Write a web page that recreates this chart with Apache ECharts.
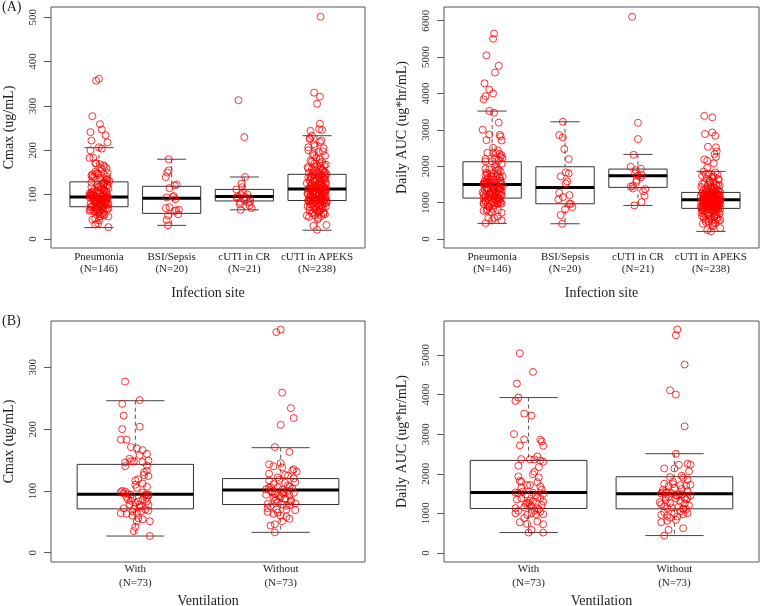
<!DOCTYPE html>
<html><head><meta charset="utf-8">
<script src="https://cdn.jsdelivr.net/npm/echarts@6/dist/echarts.min.js"></script>
<style>html,body{margin:0;padding:0;background:#fff}#c{width:760px;height:606px}</style>
</head><body><div id="c"></div>
<script>
// ---------- categories ----------
var siteNames = ['Pneumonia', 'BSI/Sepsis', 'cUTI in CR', 'cUTI in APEKS'];
var siteN = [146, 20, 21, 238];
var ventNames = ['With', 'Without'];
var ventN = [73, 73];

// ---------- box statistics [lower whisker, Q1, median, Q3, upper whisker] ----------
var cmaxSiteBox = [[26, 73, 95, 129, 206], [31, 58, 92, 119, 180], [66, 86, 96, 112, 140], [20, 87, 113, 146, 233]];
var aucSiteBox = [[431, 1126, 1502, 2124, 3516], [421, 970, 1420, 1986, 3222], [925, 1420, 1740, 1923, 2326], [211, 843, 1080, 1282, 1860]];
var cmaxVentBox = [[27, 71, 94.5, 143, 246], [33, 78, 101.5, 120, 170]];
var aucVentBox = [[514, 1122, 1527, 2337, 3925], [438, 1114, 1494, 1924, 2507]];

// ---------- individual values (jitter offsets in hundredths of a category unit) ----------
var withCmax = [277, 241, 247, 222, 204, 200, 183, 183, 171, 169, 166, 160, 158, 149, 148, 146, 148, 147, 140, 141, 133, 126, 124, 117, 112, 110, 105, 98, 96, 94, 97, 94, 94, 88, 86, 83, 86, 83, 78, 78, 77, 72, 71, 67, 67, 64, 68, 64, 63, 56, 54, 51, 51, 42, 35, 27,
  95, 92, 89, 81, 84, 75, 70, 100, 130, 152, 119, 107, 90, 74, 60, 93, 99];
var withCmaxJit = [-7, -9, 3, -8, 3, -9, -10, -6, -3, 1, 5, 8, 3, 9, -3, -7, -1, 5, -7, 8, 8, 6, 9, 0, 5, 0, 1, -10, -8, -3, 5, 7, 9, -2, -5, 2, 5, 8, -4, 3, 9, -8, -1, -2, 4, 1, 9, -10, -6, 2, 5, 1, 10, 0, -1, 10,
  -5, 6, 8, 0, -3, 4, 7, -9, 6, -4, 2, 8, -6, 3, -2, 9, -7];
var withoutCmax = [357, 361, 259, 234, 218, 207, 171, 163, 143, 140, 145, 138, 135, 131, 125, 122, 117, 114, 113, 111, 106, 106, 107, 102, 100, 98, 97, 94, 92, 87, 84, 83, 79, 78, 75, 70, 70, 69, 66, 63, 60, 51, 55, 44, 46, 33,
  103, 95, 88, 85, 99, 104, 120, 128, 90, 82, 76, 72, 109, 96, 101, 93, 86, 80, 118, 126, 133, 89, 97, 105, 77, 65, 58];
var withoutCmaxJit = [-3, 0, 1, 7, 9, 0, -4, 6, -8, -5, 0, 1, 9, 11, 5, -2, -8, 10, 3, -5, -7, -2, 6, 1, 5, -6, 9, -10, -1, 3, -4, 7, -9, 1, -7, -3, 4, 10, -9, -5, 0, 1, 6, -7, -4, -4,
  -10, -4, 3, 7, -6, 8, 9, -8, 0, -2, 4, -9, 5, 2, -7, 6, -3, 10, -1, 3, 8, -5, 1, -8, 6, -2, 4];
var withAuc = [5046, 4573, 4279, 3925, 3839, 3519, 3469, 3003, 2869, 2861, 2818, 2717, 2709, 2438, 2370, 2362, 2337, 2362, 2304, 2203, 2167, 1990, 1932, 1907, 1798, 1788, 1712, 1712, 1679, 1527, 1509, 1476, 1494, 1383, 1383, 1299, 1299, 1256, 1231, 1205, 1155, 1129, 1079, 1003, 1063, 1003, 977, 977, 962, 793, 775, 734, 724, 582, 514, 514,
  1550, 1450, 1350, 1180, 1100, 1240, 1600, 1820, 2050, 1270, 1130, 1400, 1520, 880, 1040, 1650, 1320];
var withAucJit = [-6, 3, -8, -7, -9, -3, 2, -10, -3, 8, 9, -6, 10, 6, -5, 1, 8, 4, 10, -7, 7, 3, -7, 7, -5, 6, -1, 1, 8, -9, -7, -2, 10, 8, -5, 3, 10, -1, 1, 9, -3, 6, 4, -9, -7, 2, 10, 5, -1, 6, -6, -1, 10, 2, 0, 10,
  -4, 5, -8, 2, 7, -2, 9, -6, 4, 0, -9, 6, 3, -3, 8, -5, 1];
var withoutAuc = [5646, 5502, 4760, 4109, 4001, 3198, 2507, 2228, 2253, 2228, 2134, 2134, 2066, 1914, 1899, 1848, 1747, 1737, 1722, 1686, 1712, 1700, 1534, 1509, 1484, 1451, 1400, 1375, 1383, 1231, 1256, 1172, 1129, 1114, 1028, 1003, 1003, 962, 937, 919, 1114, 775, 810, 835, 623, 582, 438,
  1480, 1560, 1520, 1460, 1300, 1620, 1280, 1350, 1420, 1590, 1200, 1150, 1050, 1250, 1800, 1950, 1500, 1440, 1330, 1100, 1640, 980, 890, 1180, 1380, 1540];
var withoutAucJit = [2, 1, 7, -3, 1, 7, 1, 3, 9, 11, -7, 0, 10, -3, 6, 9, -7, -1, 11, -4, 4, 8, -8, -2, 5, 11, -6, 1, 7, -9, -3, 3, -5, 6, -7, 0, 9, -9, -5, 2, 6, -9, -5, 1, 6, -4, -7,
  3, 9, -6, 1, 4, 5, -10, 8, -4, -8, 10, -2, 4, 7, -1, 5, -9, 2, -6, 8, 0, 6, -3, -7, 9, -5];

var bsiCmax = [180, 155, 150, 140, 121, 115, 97, 94, 70, 72, 65, 56, 53, 43, 31, 95, 63, 123, 90, 66];
var bsiCmaxJit = [-4, -4, -6, -8, 4, -3, 3, -7, -8, -3, 6, 9, -5, -7, -5, 2, 4, 7, 5, 10];
var bsiAuc = [3223, 2857, 2793, 2472, 2198, 1805, 1722, 1585, 1530, 1272, 1209, 1154, 970, 879, 816, 659, 420, 966, 1090, 1833];
var bsiAucJit = [-3, -8, -3, -1, 5, 5, -6, 3, 1, -8, 6, -3, 6, 10, 0, -6, -4, 8, -9, 1];
var crCmax = [313, 230, 140, 125, 117, 112, 106, 101, 99, 95, 95, 94, 92, 88, 84, 84, 82, 78, 76, 70, 66];
var crCmaxJit = [-8, 0, 1, -4, -3, -11, -2, 4, -4, -9, 1, -11, 8, 0, -6, 8, 6, -6, 7, 10, -5];
var crAuc = [6107, 3195, 2747, 2316, 1986, 1931, 1895, 1805, 1760, 1739, 1694, 1620, 1574, 1464, 1438, 1392, 1374, 1310, 1190, 1016, 925];
var crAucJit = [-8, 0, 0, -6, -10, 4, -3, -4, 5, 0, 4, -2, -2, -7, -10, -7, 10, 7, 9, 5, -5];

var apeksCmax = [501, 330, 321, 305, 260, 248, 246, 244, 233, 225, 219, 214,
  228, 222, 210, 205, 200, 196, 192, 188, 184, 180, 177, 174, 170, 168, 165, 162, 160, 158, 156, 154, 152, 150, 149, 148, 147,
  145, 144, 142, 141, 139, 138, 136, 135, 133, 132, 130, 129, 128, 126, 125, 124, 122, 121, 120, 119, 118, 117, 116, 115, 114, 114, 113, 113, 112, 112,
  111, 110, 109, 108, 107, 106, 105, 104, 103, 102, 101, 100, 99, 98, 97, 96, 95, 94, 93, 92, 91, 90, 90, 89, 88, 88, 87, 87, 86, 86,
  85, 84, 82, 81, 80, 78, 77, 76, 74, 73, 71, 70, 68, 66, 64, 62, 60, 58, 56, 54, 52, 50, 48, 32, 30, 21,
  175, 171, 166, 163, 159, 155, 151, 146, 143, 140, 137, 134, 131, 127, 123, 119, 116, 113, 110, 108, 106, 104, 102, 100, 98, 96, 94, 92, 90, 88,
  86, 84, 82, 79, 76, 72, 69, 65, 61, 57, 53, 45, 150, 140, 130, 120, 110, 100, 95, 85, 125, 135, 105, 115, 92, 83, 189, 198, 207, 62];
var apeksCmaxJitHead = [5, -4, 4, 0, 4, 3, 7, -9, -7, -10, 4, -4];
var apeksAuc = [3385, 3345, 2930, 2885, 2840, 2535, 2520, 2410, 2335, 2260, 2190, 2150, 2080, 1960,
  1855, 1830, 1800, 1770, 1740, 1700, 1660, 1630, 1600, 1570, 1540, 1510, 1490, 1470, 1450, 1430, 1410, 1390, 1370, 1350, 1330, 1315, 1300, 1290, 1285,
  1280, 1270, 1262, 1255, 1248, 1240, 1230, 1222, 1215, 1205, 1198, 1190, 1180, 1172, 1165, 1158, 1150, 1142, 1135, 1128, 1120, 1115, 1110, 1104, 1098, 1092, 1088, 1085, 1082, 1080,
  1075, 1068, 1060, 1052, 1045, 1036, 1028, 1020, 1012, 1004, 996, 988, 980, 972, 964, 955, 946, 938, 930, 922, 914, 905, 896, 888, 880, 872, 864, 856, 850, 845,
  838, 825, 812, 800, 785, 770, 755, 740, 720, 700, 680, 660, 640, 620, 600, 580, 555, 530, 505, 480, 450, 420, 380, 300, 250, 212,
  1780, 1720, 1650, 1590, 1520, 1460, 1400, 1340, 1290, 1250, 1210, 1170, 1130, 1100, 1070, 1040, 1010, 985, 960, 935, 910, 885, 860, 835, 810, 780, 750, 710, 670, 630,
  590, 560, 520, 470, 430, 1200, 1150, 1050, 1000, 950, 900, 1120, 1060, 980, 870, 1260, 1180, 1090, 940, 820, 1360, 1480, 1560, 690, 610, 1030, 1140, 1230, 790, 350];
var apeksAucJitHead = [-9, 2, 2, -8, 6, -4, 7, 8, 5, 7, -9, -5, 4, -5];
var apeksJitTail = [-10, 6, -3, 9, -12, 2, -6, 11, -1, 4, -9, 7, -4, 12, 0, -13, 5, -7, 8, -2, 10, -11, 3,
  -6, 13, -1, 6, -8, 2, -12, 9, -4, 11, 0, -10, 5, -3, 7, -14, 1, 12, -7, 4, -9, 8, -2, 10, -5, 3, -11, 6, -1, 13,
  -8, 2, 9, -12, 5, -4, 11, -6, 0, 7, -13, 3, 10, -2, -9, 6, 12, -7, 1, -10, 8, -3, 4, 11, -5, -11, 9, 2, -8, 13,
  -1, 6, -12, 4, 10, -6, 0, -9, 7, 3, -13, 12, -4, 8, -2, 5, -10, 1, 9, -7, 11, -3, 6, -11, 2, 13, -5, 0,
  -7, 4, 10, -2, -12, 8, 1, -5, 11, -9, 3,
  6, -3, 12, -8, 0, 9, -11, 4, -6, 10, -1, -13, 7, 2, -9, 11, -4, 5, -12, 8, -2, 13, -7, 3, -10, 6, 0, -5, 9, -14,
  1, 11, -8, 4, -3, 12, -6, 7, -11, 2, 10, -1, -9, 5, 13, -4, 8, -12, 3, -7, 11, 0, -10, 6, -2, 9, -13, 4, 12, -5];

// ---------- axis tick values ----------
var cmaxSiteTicks = [0, 100, 200, 300, 400, 500];
var aucSiteTicks = [0, 1000, 2000, 3000, 4000, 5000, 6000];
var cmaxVentTicks = [0, 100, 200, 300];
var aucVentTicks = [0, 1000, 2000, 3000, 4000, 5000];

// ---------- build ----------
var FONT = '"Liberation Serif", "Times New Roman", serif';
function pts(pos, vals, jit, scale) {
  return vals.map(function (v, i) { return [pos + (jit[i % jit.length] / 100) * scale, v]; });
}
function boxes(stats) {
  return stats.map(function (s, i) { return [i + 1, s[0], s[1], s[2], s[3], s[4]]; });
}
function renderBox(params, api) {
  var x = api.value(0), lo = api.value(1), q1 = api.value(2), md = api.value(3), q3 = api.value(4), hi = api.value(5);
  var hw = 0.4, cw = 0.2;
  var a = api.coord([x - hw, q3]), b = api.coord([x + hw, q1]);
  var m1 = api.coord([x - hw, md]), m2 = api.coord([x + hw, md]);
  var ph = api.coord([x, hi]), p3 = api.coord([x, q3]), p1 = api.coord([x, q1]), pl = api.coord([x, lo]);
  var h1 = api.coord([x - cw, hi]), h2 = api.coord([x + cw, hi]);
  var l1 = api.coord([x - cw, lo]), l2 = api.coord([x + cw, lo]);
  var dash = { stroke: '#555', lineWidth: 1, lineDash: [4, 3] };
  var solid = { stroke: '#444', lineWidth: 1 };
  return { type: 'group', children: [
    { type: 'line', shape: { x1: ph[0], y1: ph[1], x2: p3[0], y2: p3[1] }, style: dash },
    { type: 'line', shape: { x1: p1[0], y1: p1[1], x2: pl[0], y2: pl[1] }, style: dash },
    { type: 'line', shape: { x1: h1[0], y1: h1[1], x2: h2[0], y2: h2[1] }, style: solid },
    { type: 'line', shape: { x1: l1[0], y1: l1[1], x2: l2[0], y2: l2[1] }, style: solid },
    { type: 'rect', shape: { x: a[0], y: a[1], width: b[0] - a[0], height: b[1] - a[1] }, style: { fill: 'rgba(0,0,0,0)', stroke: '#333', lineWidth: 1 } },
    { type: 'line', shape: { x1: m1[0], y1: m1[1], x2: m2[0], y2: m2[1] }, style: { stroke: '#000', lineWidth: 3 } }
  ] };
}
function yAx(idx, min, max, ticks, name) {
  return {
    gridIndex: idx, type: 'value', min: min, max: max, name: name,
    nameLocation: 'middle', nameRotate: 90, nameGap: 35,
    nameTextStyle: { fontFamily: FONT, fontSize: 14, color: '#222' },
    axisLine: { show: false }, splitLine: { show: false },
    axisTick: { show: true, length: 7, customValues: ticks, lineStyle: { color: '#555' } },
    axisLabel: { customValues: ticks, rotate: 90, margin: 12, fontFamily: FONT, fontSize: 11, color: '#333',
      formatter: function (v) { return String(Math.round(v)); } }
  };
}
function xAx(idx, min, max, names, ns, title, lh, margin, gap) {
  var vals = names.map(function (n, i) { return i + 1; });
  return {
    gridIndex: idx, type: 'value', min: min, max: max, name: title,
    nameLocation: 'middle', nameGap: gap,
    nameTextStyle: { fontFamily: FONT, fontSize: 14, color: '#222' },
    axisLine: { show: false }, splitLine: { show: false }, axisTick: { show: false },
    axisLabel: { customValues: vals, margin: margin, fontFamily: FONT, fontSize: 11, color: '#222', lineHeight: lh,
      formatter: function (v) { var i = Math.round(v) - 1; return names[i] + '\n(N=' + ns[i] + ')'; } }
  };
}
function scat(idx, data) {
  return { type: 'scatter', xAxisIndex: idx, yAxisIndex: idx, data: data, symbol: 'circle', symbolSize: 7, z: 5,
    itemStyle: { color: 'rgba(255,0,0,0)', borderColor: '#ff0000', borderWidth: 1 } };
}
function boxSeries(idx, stats) {
  return { type: 'custom', xAxisIndex: idx, yAxisIndex: idx, data: boxes(stats), renderItem: renderBox, z: 2,
    encode: { x: 0, y: [1, 2, 3, 4, 5] } };
}

var pneuCmax = withCmax.concat(withoutCmax), pneuCmaxJit = withCmaxJit.concat(withoutCmaxJit);
var pneuAuc = withAuc.concat(withoutAuc), pneuAucJit = withAucJit.concat(withoutAucJit);
var apCmaxJit = apeksCmaxJitHead.concat(apeksJitTail), apAucJit = apeksAucJitHead.concat(apeksJitTail);

var S1 = 1.3;
var tlPts = [].concat(pts(1, pneuCmax, pneuCmaxJit, S1), pts(2, bsiCmax, bsiCmaxJit, 1), pts(3, crCmax, crCmaxJit, 1), pts(4, apeksCmax, apCmaxJit, 1));
var trPts = [].concat(pts(1, pneuAuc, pneuAucJit, S1), pts(2, bsiAuc, bsiAucJit, 1), pts(3, crAuc, crAucJit, 1), pts(4, apeksAuc, apAucJit, 1));
var blPts = [].concat(pts(1, withCmax, withCmaxJit, 1), pts(2, withoutCmax, withoutCmaxJit, 1));
var brPts = [].concat(pts(1, withAuc, withAucJit, 1), pts(2, withoutAuc, withoutAucJit, 1));

var gridStyle = { show: true, borderColor: '#555', borderWidth: 1, backgroundColor: 'rgba(0,0,0,0)', containLabel: false, outerBoundsMode: 'none' };
var option = {
  animation: false,
  backgroundColor: '#fff',
  grid: [
    Object.assign({ left: 51, top: 7, width: 314, height: 241 }, gridStyle),
    Object.assign({ left: 444, top: 7, width: 315, height: 241 }, gridStyle),
    Object.assign({ left: 51, top: 321, width: 314, height: 241 }, gridStyle),
    Object.assign({ left: 444, top: 321, width: 315, height: 241 }, gridStyle)
  ],
  xAxis: [
    xAx(0, 0.34, 4.66, siteNames, siteN, 'Infection site', 12, 3, 38),
    xAx(1, 0.34, 4.66, siteNames, siteN, 'Infection site', 12, 3, 38),
    xAx(2, 0.42, 2.58, ventNames, ventN, 'Ventilation', 14, 0, 32),
    xAx(3, 0.42, 2.58, ventNames, ventN, 'Ventilation', 14, 0, 32)
  ],
  yAxis: [
    yAx(0, -20, 523, cmaxSiteTicks, 'Cmax (ug/mL)'),
    yAx(1, -245, 6375, aucSiteTicks, 'Daily AUC (ug*hr/mL)'),
    yAx(2, -15, 375, cmaxVentTicks, 'Cmax (ug/mL)'),
    yAx(3, -230, 5860, aucVentTicks, 'Daily AUC (ug*hr/mL)')
  ],
  graphic: [
    { type: 'text', left: 2, top: 0, style: { text: '(A)', font: '14px ' + FONT, fill: '#222' } },
    { type: 'text', left: 2, top: 314, style: { text: '(B)', font: '14px ' + FONT, fill: '#222' } }
  ],
  series: [
    boxSeries(0, cmaxSiteBox), scat(0, tlPts),
    boxSeries(1, aucSiteBox), scat(1, trPts),
    boxSeries(2, cmaxVentBox), scat(2, blPts),
    boxSeries(3, aucVentBox), scat(3, brPts)
  ]
};
var chart = echarts.init(document.getElementById('c'), null, { renderer: 'canvas' });
chart.setOption(option);
</script></body></html>
